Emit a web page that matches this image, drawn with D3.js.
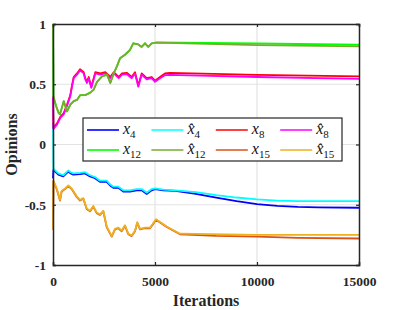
<!DOCTYPE html>
<html>
<head>
<meta charset="utf-8">
<script src="https://cdn.jsdelivr.net/npm/d3@7"></script>
<style>
  body { margin: 0; background: #fff; }
  svg text { font-family: "Liberation Serif", "Times New Roman", Times, serif; }
</style>
</head>
<body>
<div id="chart"></div>
<script>
// values: [iteration, opinion]
var x4_hat = [[0, 0.18], [20, -0.20], [260, -0.24], [505, -0.255], [750, -0.215], [870, -0.23], [995, -0.24],
    [1324, -0.235], [1569, -0.23], [1814, -0.255], [2059, -0.27], [2304, -0.30], [2632, -0.30], [2800, -0.33],
    [2956, -0.35], [3201, -0.35], [3446, -0.38], [3775, -0.38], [4103, -0.37], [4348, -0.37], [4593, -0.40],
    [4838, -0.37], [5000, -0.365], [5407, -0.375], [6000, -0.38], [7000, -0.395], [8000, -0.42], [9000, -0.44],
    [10000, -0.455], [11000, -0.465], [12000, -0.47], [15000, -0.47]]
var x4 = [[0, -0.28], [20, -0.21], [260, -0.25], [505, -0.265], [750, -0.225], [870, -0.24], [995, -0.25],
    [1324, -0.245], [1569, -0.24], [1814, -0.265], [2059, -0.28], [2304, -0.31], [2632, -0.31], [2800, -0.34],
    [2956, -0.36], [3201, -0.36], [3446, -0.39], [3775, -0.39], [4103, -0.38], [4348, -0.38], [4593, -0.41],
    [4838, -0.38], [5000, -0.37], [5407, -0.38], [6000, -0.385], [7000, -0.41], [8000, -0.44], [9000, -0.47],
    [10000, -0.495], [11000, -0.51], [12000, -0.518], [13000, -0.522], [15000, -0.525]]

var x8_hat = [[0, 0.40], [20, 0.13], [196, 0.165], [358, 0.22], [525, 0.25], [686, 0.32], [848, 0.40], [931, 0.48],
    [1015, 0.55], [1176, 0.58], [1324, 0.615], [1505, 0.59], [1583, 0.54], [1667, 0.51], [1750, 0.55], [1877, 0.47],
    [1995, 0.54], [2074, 0.59], [2319, 0.58], [2564, 0.59], [2809, 0.55], [2976, 0.59], [3221, 0.55], [3382, 0.58],
    [3613, 0.585], [3858, 0.55], [4020, 0.59], [4181, 0.48], [4348, 0.58], [4593, 0.54], [4838, 0.55], [5000, 0.52],
    [5245, 0.55], [5490, 0.575], [5735, 0.578], [10000, 0.56], [15000, 0.545]]
var x8 = [[0, 0.40], [20, 0.14], [196, 0.175], [358, 0.23], [525, 0.26], [686, 0.33], [848, 0.41], [931, 0.49],
    [1015, 0.56], [1176, 0.59], [1324, 0.625], [1505, 0.60], [1583, 0.55], [1667, 0.52], [1750, 0.56], [1877, 0.48],
    [1995, 0.55], [2074, 0.60], [2319, 0.59], [2564, 0.60], [2809, 0.56], [2976, 0.60], [3221, 0.56], [3382, 0.59],
    [3613, 0.595], [3858, 0.56], [4020, 0.60], [4181, 0.49], [4348, 0.59], [4593, 0.55], [4838, 0.56], [5000, 0.53],
    [5245, 0.56], [5490, 0.59], [5735, 0.595], [10000, 0.578], [15000, 0.565]]

var x12_hat = [[0, 1.0], [20, 0.40], [150, 0.32], [280, 0.26], [343, 0.25], [525, 0.36], [686, 0.275], [848, 0.33],
    [1015, 0.36], [1176, 0.37], [1338, 0.41], [1583, 0.41], [1828, 0.43], [1995, 0.455], [2157, 0.52], [2402, 0.565],
    [2647, 0.58], [2809, 0.51], [2976, 0.59], [3137, 0.65], [3284, 0.715], [3529, 0.745], [3775, 0.785], [3936, 0.84],
    [4181, 0.83], [4348, 0.81], [4510, 0.84], [4672, 0.81], [4838, 0.84], [5083, 0.845], [10000, 0.825], [15000, 0.814]]
var x12 = [[0, 1.0], [20, 0.40], [150, 0.32], [280, 0.26], [343, 0.25], [525, 0.36], [686, 0.275], [848, 0.33],
    [1015, 0.36], [1176, 0.37], [1338, 0.41], [1583, 0.41], [1828, 0.43], [1995, 0.455], [2157, 0.52], [2402, 0.565],
    [2647, 0.58], [2809, 0.51], [2976, 0.59], [3137, 0.65], [3284, 0.715], [3529, 0.745], [3775, 0.785], [3936, 0.84],
    [4181, 0.83], [4348, 0.81], [4510, 0.84], [4672, 0.81], [4838, 0.84], [5083, 0.847], [10000, 0.838], [15000, 0.828]]

var x15_hat = [[0, -0.71], [20, -0.30], [181, -0.365], [343, -0.46], [426, -0.385], [588, -0.365], [750, -0.34],
    [917, -0.365], [1162, -0.43], [1324, -0.46], [1485, -0.445], [1652, -0.53], [1814, -0.55], [1975, -0.51],
    [2142, -0.565], [2304, -0.58], [2466, -0.55], [2632, -0.68], [2877, -0.76], [3039, -0.70], [3201, -0.69],
    [3368, -0.715], [3529, -0.67], [3691, -0.74], [3858, -0.755], [4020, -0.715], [4132, -0.645], [4265, -0.70],
    [4510, -0.69], [4755, -0.69], [4887, -0.66], [5049, -0.62], [5574, -0.68], [6225, -0.74], [10000, -0.75], [15000, -0.75]]
var x15 = [[0, -0.71], [20, -0.305], [181, -0.37], [343, -0.465], [426, -0.39], [588, -0.37], [750, -0.345],
    [917, -0.37], [1162, -0.435], [1324, -0.465], [1485, -0.45], [1652, -0.535], [1814, -0.555], [1975, -0.515],
    [2142, -0.57], [2304, -0.585], [2466, -0.555], [2632, -0.685], [2877, -0.765], [3039, -0.705], [3201, -0.695],
    [3368, -0.72], [3529, -0.675], [3691, -0.745], [3858, -0.76], [4020, -0.72], [4132, -0.65], [4265, -0.705],
    [4510, -0.695], [4755, -0.695], [4887, -0.665], [5049, -0.625], [5574, -0.685], [6225, -0.745], [8000, -0.758],
    [10000, -0.765], [12000, -0.775], [15000, -0.78]]

var x_ticks = [0, 5000, 10000, 15000]
var y_ticks = [-1, -0.5, 0, 0.5, 1]
var y_tick_labels = ["-1", "-0.5", "0", "0.5", "1"]

var series = [
    { "name": "x", "sub": "4", "hat": false, "data": x4, "color": "#0000ff" },
    { "name": "x", "sub": "4", "hat": true, "data": x4_hat, "color": "#00ffff" },
    { "name": "x", "sub": "8", "hat": false, "data": x8, "color": "#ff0000" },
    { "name": "x", "sub": "8", "hat": true, "data": x8_hat, "color": "#ff00ff" },
    { "name": "x", "sub": "12", "hat": false, "data": x12, "color": "#00ff00" },
    { "name": "x", "sub": "12", "hat": true, "data": x12_hat, "color": "#77ac30" },
    { "name": "x", "sub": "15", "hat": false, "data": x15, "color": "#d95319" },
    { "name": "x", "sub": "15", "hat": true, "data": x15_hat, "color": "#edb120" }
]

function draw_chart() {
    var width = 398;
    var height = 310;
    var padding = { "left": 53, "right": 39, "top": 24, "bottom": 45 };
    var axis_color = "#262626";
    var serif = "'Liberation Serif', 'Times New Roman', Times, serif";

    var svg = d3.select("#chart")
        .append("svg")
        .attr("width", width)
        .attr("height", height)
        .attr("font-family", serif);

    var x_scale = d3.scaleLinear()
        .domain([0, 15000])
        .range([padding.left, width - padding.right]);
    var y_scale = d3.scaleLinear()
        .domain([-1, 1])
        .range([height - padding.bottom, padding.top]);

    // grid
    svg.selectAll(".grid-x").data(x_ticks.slice(1, -1))
        .enter().append("line")
        .attr("x1", function (d) { return x_scale(d); })
        .attr("x2", function (d) { return x_scale(d); })
        .attr("y1", y_scale(-1))
        .attr("y2", y_scale(1))
        .attr("stroke", "#e3e3e3")
        .attr("stroke-width", 1.2);
    svg.selectAll(".grid-y").data(y_ticks.slice(1, -1))
        .enter().append("line")
        .attr("y1", function (d) { return y_scale(d); })
        .attr("y2", function (d) { return y_scale(d); })
        .attr("x1", x_scale(0))
        .attr("x2", x_scale(15000))
        .attr("stroke", "#e3e3e3")
        .attr("stroke-width", 1.2);

    // curves
    var line = d3.line()
        .x(function (d) { return x_scale(d[0]); })
        .y(function (d) { return y_scale(d[1]); });
    svg.selectAll(".curve").data(series)
        .enter().append("path")
        .attr("d", function (d) { return line(d.data); })
        .attr("fill", "none")
        .attr("stroke", function (d) { return d.color; })
        .attr("stroke-width", 1.8)
        .attr("stroke-linejoin", "round");

    // axes (box with inward ticks)
    var x_axis = d3.axisBottom(x_scale).tickValues(x_ticks).tickSize(-3).tickPadding(11).tickFormat(d3.format("d"));
    var x_axis_top = d3.axisTop(x_scale).tickValues(x_ticks).tickSize(-3).tickFormat("");
    var y_axis = d3.axisLeft(y_scale).tickValues(y_ticks).tickSize(-3).tickPadding(7)
        .tickFormat(function (d, i) { return y_tick_labels[i]; });
    var y_axis_right = d3.axisRight(y_scale).tickValues(y_ticks).tickSize(-3).tickFormat("");

    var axes = [
        svg.append("g").attr("transform", "translate(0," + y_scale(-1) + ")").call(x_axis),
        svg.append("g").attr("transform", "translate(0," + y_scale(1) + ")").call(x_axis_top),
        svg.append("g").attr("transform", "translate(" + x_scale(0) + ",0)").call(y_axis),
        svg.append("g").attr("transform", "translate(" + x_scale(15000) + ",0)").call(y_axis_right)
    ];
    axes.forEach(function (g) {
        g.attr("font-family", serif);
        g.select(".domain").attr("stroke", axis_color).attr("stroke-width", 1.5);
        g.selectAll(".tick line").attr("stroke", axis_color).attr("stroke-width", 1.2);
        g.selectAll(".tick text")
            .attr("fill", axis_color)
            .attr("font-weight", "bold")
            .attr("font-size", 13.5);
    });

    // axis labels
    svg.append("text")
        .text("Iterations")
        .attr("x", x_scale(7500))
        .attr("y", 306)
        .attr("text-anchor", "middle")
        .attr("fill", axis_color)
        .attr("font-weight", "bold")
        .attr("font-size", 16);
    svg.append("text")
        .text("Opinions")
        .attr("transform", "translate(17," + y_scale(0) + ") rotate(-90)")
        .attr("text-anchor", "middle")
        .attr("fill", axis_color)
        .attr("font-weight", "bold")
        .attr("font-size", 16);

    // legend
    var legend = svg.append("g").attr("transform", "translate(83,118)");
    legend.append("rect")
        .attr("width", 259)
        .attr("height", 43)
        .attr("fill", "#fff")
        .attr("stroke", axis_color)
        .attr("stroke-width", 1.2);
    var items = legend.selectAll(".legend-item").data(series)
        .enter().append("g")
        .attr("transform", function (d, i) {
            return "translate(" + (4 + (i % 4) * 64.4) + "," + (12 + Math.floor(i / 4) * 20) + ")";
        });
    items.append("line")
        .attr("x1", 0).attr("x2", 32)
        .attr("stroke", function (d) { return d.color; })
        .attr("stroke-width", 1.6);
    var labels = items.append("text")
        .attr("x", 36)
        .attr("y", 4)
        .attr("fill", "#111")
        .attr("font-style", "italic")
        .attr("font-size", 16);
    labels.append("tspan").text(function (d) { return d.hat ? d.name + "\u0302" : d.name; });
    labels.append("tspan")
        .attr("dy", 4)
        .attr("font-style", "normal")
        .attr("font-size", 11)
        .text(function (d) { return d.sub; });
}

draw_chart();
</script>
</body>
</html>
